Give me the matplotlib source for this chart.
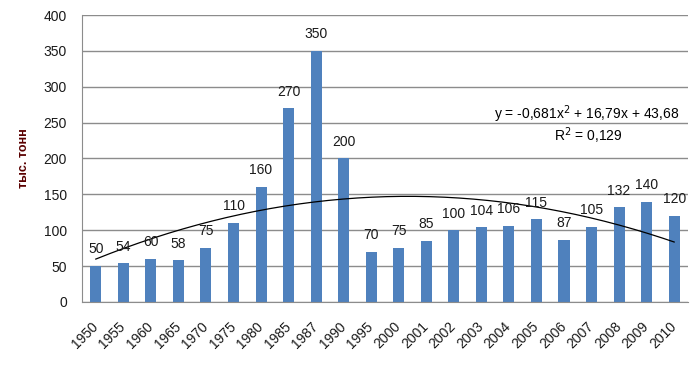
import numpy as np
import matplotlib

matplotlib.use("Agg")
import matplotlib.pyplot as plt

years = ["1950", "1955", "1960", "1965", "1970", "1975", "1980", "1985", "1987", "1990",
         "1995", "2000", "2001", "2002", "2003", "2004", "2005", "2006", "2007", "2008",
         "2009", "2010"]
values = [50, 54, 60, 58, 75, 110, 160, 270, 350, 200,
          70, 75, 85, 100, 104, 106, 115, 87, 105, 132, 140, 120]

plt.rcParams["font.family"] = ["Liberation Sans", "DejaVu Sans"]

fig = plt.figure(figsize=(6.97, 3.66), dpi=100)
ax = fig.add_axes([0.1177, 0.1749, 0.8693, 0.7841])

x = np.arange(1, len(values) + 1)
ax.bar(x, values, width=0.4, color="#4f81bd", zorder=2)

for xi, v in zip(x, values):
    ax.annotate(str(v), (xi, v), xytext=(0, 7), textcoords="offset points",
                ha="center", va="bottom", fontsize=10, color="#1a1a1a", zorder=4)

# polynomial trend (order 2), as in the spreadsheet
coef = np.polyfit(x, values, 2)
xs = np.linspace(x[0], x[-1], 200)
ax.plot(xs, np.polyval(coef, xs), color="black", lw=0.9, zorder=3)

ax.text(0.985, 0.617, "y = -0,681x$^2$ + 16,79x + 43,68", transform=ax.transAxes,
        ha="right", va="bottom", fontsize=10)
ax.text(0.835, 0.542, "R$^2$ = 0,129", transform=ax.transAxes,
        ha="center", va="bottom", fontsize=10)

ax.set_xlim(0.5, len(values) + 0.5)
ax.set_ylim(0, 400)
ax.set_yticks(range(0, 401, 50))
ax.set_xticks(x)
ax.set_xticklabels(years, rotation=45, ha="right", va="center", rotation_mode="anchor")
ax.tick_params(axis="both", length=0, labelsize=10, colors="#1a1a1a")
ax.tick_params(axis="y", pad=11)
ax.tick_params(axis="x", pad=16)
ax.grid(axis="y", color="#8c8c8c", lw=1, zorder=1)
for side in ["top", "right"]:
    ax.spines[side].set_visible(False)
ax.spines["left"].set_color("#8c8c8c")
ax.spines["bottom"].set_color("#8c8c8c")

ax.set_ylabel("тыс. тонн", fontsize=9, fontweight="bold", color="#5a0000")
ax.yaxis.set_label_coords(-0.086, 0.5)

fig.savefig("out.png", dpi=100)
